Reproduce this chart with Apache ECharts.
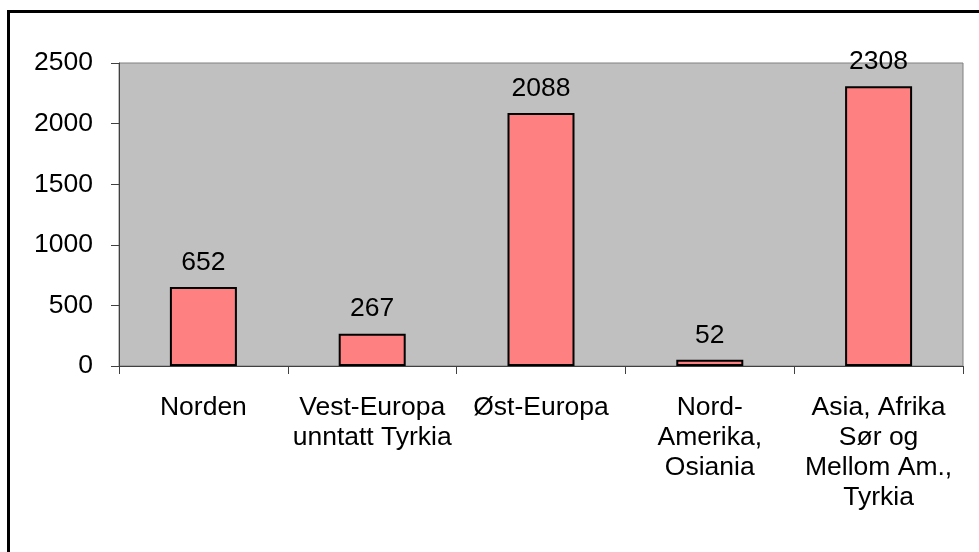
<!DOCTYPE html>
<html>
<head>
<meta charset="utf-8">
<script src="https://cdn.jsdelivr.net/npm/echarts@6/dist/echarts.min.js"></script>
<style>
  html, body { margin: 0; padding: 0; background: #fff; }
  #chart { width: 979px; height: 552px; }
</style>
</head>
<body>
<div id="chart"></div>
<script>
const categories = [
  'Norden',
  'Vest-Europa\nunntatt Tyrkia',
  'Øst-Europa',
  'Nord-\nAmerika,\nOsiania',
  'Asia, Afrika\nSør og\nMellom Am.,\nTyrkia'
];
const values = [652, 267, 2088, 52, 2308];
const yTicks = { min: 0, max: 2500, interval: 500 };

const font = 'Liberation Sans, Arial, sans-serif';

const chart = echarts.init(document.getElementById('chart'));
chart.setOption({
  animation: false,
  backgroundColor: '#fff',
  graphic: [{
    type: 'rect',
    shape: { x: 8.5, y: 11.5, width: 1000, height: 600 },
    style: { fill: 'none', stroke: '#000', lineWidth: 3 },
    silent: true
  }],
  grid: {
    left: 119, right: 16, top: 63, bottom: 186,
    show: true,
    backgroundColor: '#c0c0c0',
    borderColor: '#808080',
    borderWidth: 1
  },
  xAxis: {
    type: 'category',
    data: categories,
    axisLine: { lineStyle: { color: '#404040', width: 1 } },
    axisTick: { show: true, length: 8, lineStyle: { color: '#404040' } },
    axisLabel: {
      color: '#000', fontFamily: font, fontSize: 26.5, lineHeight: 30,
      margin: 27, interval: 0, verticalAlign: 'top'
    }
  },
  yAxis: {
    type: 'value',
    min: yTicks.min, max: yTicks.max, interval: yTicks.interval,
    axisLine: { show: true, lineStyle: { color: '#404040', width: 1 } },
    axisTick: { show: true, length: 8, lineStyle: { color: '#404040' } },
    splitLine: { show: false },
    axisLabel: {
      color: '#000', fontFamily: font, fontSize: 26.5, margin: 26,
      formatter: v => String(v)
    }
  },
  series: [{
    type: 'bar',
    data: values,
    barWidth: 67,
    itemStyle: { color: '#ff8080', borderColor: '#000', borderWidth: 2 },
    label: {
      show: true, position: 'top', distance: 11,
      color: '#000', fontFamily: font, fontSize: 26.5
    }
  }]
});
</script>
</body>
</html>
